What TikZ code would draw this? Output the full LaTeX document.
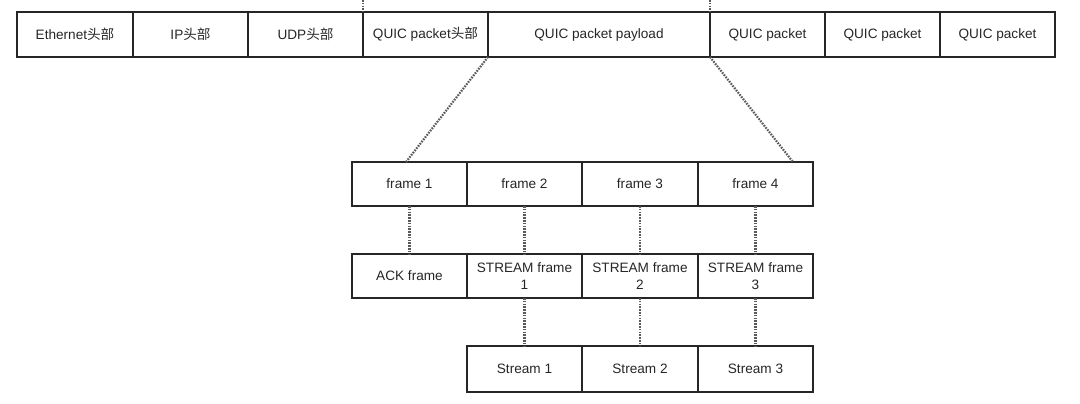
\documentclass[tikz,border=0pt]{standalone}
\usepackage{fontspec}
\setmainfont{Liberation Sans}
\newfontfamily\cjk{Noto Sans CJK SC}
\usetikzlibrary{calc}
\tikzset{
  cell/.style={draw=black!85, line width=1.4pt, rectangle, inner sep=0pt, outer sep=0pt,
    font=\fontsize{13.6}{17}\selectfont, text=black!85, align=center},
  dotline/.style={draw=black!65, line width=2.2pt, dash pattern=on 1.6pt off 1.2pt}
}
\newcommand{\mycell}[6]{%
  \node[cell, minimum width={#3-#2}, minimum height={#5-#4}] (#1) at ({(#2+#3)/2},{(#4+#5)/2}) {#6};}
\begin{document}
\begin{tikzpicture}[x=1pt,y=-1pt]
\useasboundingbox (0,0) rectangle (1080,404);
% connectors first (under boxes)
\coordinate (t1) at (363,0);
\coordinate (t2) at (710,0);
\coordinate (d1) at (406,162);
\coordinate (d2) at (793,162);
% top row
\mycell{eth}{17}{133}{12}{57}{Ethernet{\cjk 头部}}
\mycell{ip}{133}{248}{12}{57}{IP{\cjk 头部}}
\mycell{udp}{248}{363}{12}{57}{UDP{\cjk 头部}}
\mycell{qh}{363}{488}{12}{57}{QUIC packet{\cjk 头部}}
\mycell{qp}{488}{710}{12}{57}{QUIC packet payload}
\mycell{p1}{710}{825}{12}{57}{QUIC packet}
\mycell{p2}{825}{940}{12}{57}{QUIC packet}
\mycell{p3}{940}{1055}{12}{57}{QUIC packet}
% frames
\mycell{f1}{352}{467}{162}{206}{frame 1}
\mycell{f2}{467}{582}{162}{206}{frame 2}
\mycell{f3}{582}{698}{162}{206}{frame 3}
\mycell{f4}{698}{813}{162}{206}{frame 4}
% frame types
\mycell{a1}{352}{467}{254}{298}{ACK frame}
\mycell{a2}{467}{582}{254}{298}{STREAM frame\\1}
\mycell{a3}{582}{698}{254}{298}{STREAM frame\\2}
\mycell{a4}{698}{813}{254}{298}{STREAM frame\\3}
% streams
\mycell{s1}{467}{582}{346}{392}{Stream 1}
\mycell{s2}{582}{698}{346}{392}{Stream 2}
\mycell{s3}{698}{813}{346}{392}{Stream 3}
% connectors
\draw[dotline] (t1) -- (qh.north west);
\draw[dotline] (t2) -- (qp.north east);
\draw[dotline] (qp.south west) -- (d1);
\draw[dotline] (qp.south east) -- (d2);
\draw[dotline] (f1.south) -- (a1.north);
\draw[dotline] (f2.south) -- (a2.north);
\draw[dotline] (f3.south) -- (a3.north);
\draw[dotline] (f4.south) -- (a4.north);
\draw[dotline] (a2.south) -- (s1.north);
\draw[dotline] (a3.south) -- (s2.north);
\draw[dotline] (a4.south) -- (s3.north);
\end{tikzpicture}
\end{document}
